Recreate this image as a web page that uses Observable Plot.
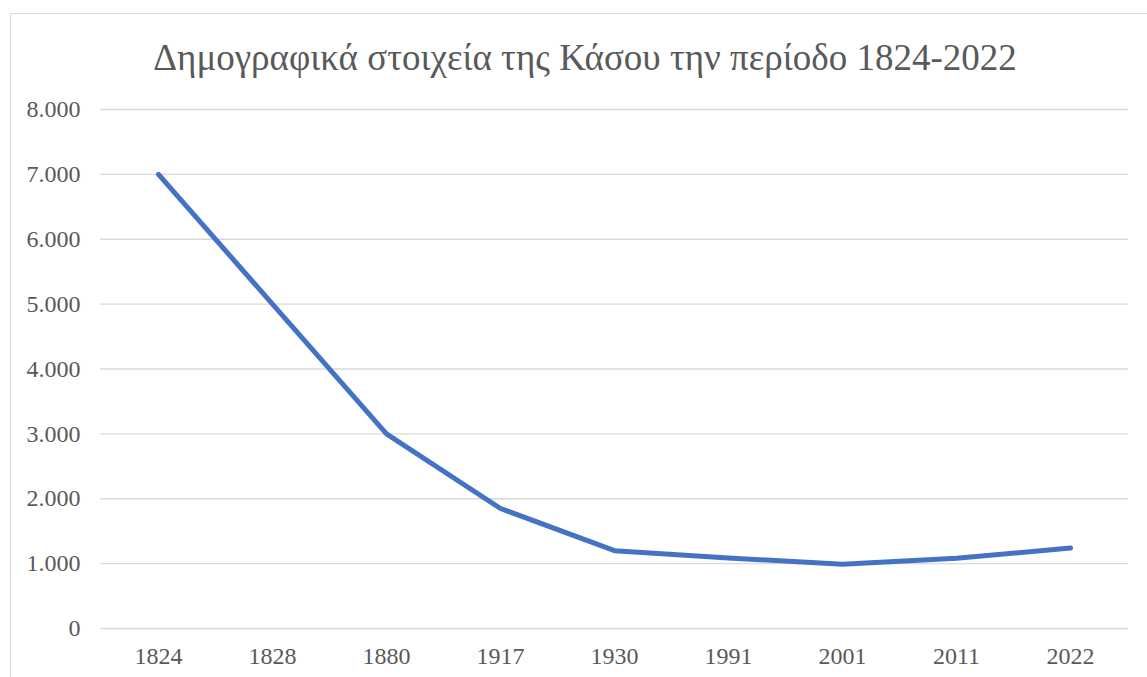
<!DOCTYPE html>
<html>
<head>
<meta charset="utf-8">
<script src="https://cdn.jsdelivr.net/npm/d3@7"></script>
<script src="https://cdn.jsdelivr.net/npm/@observablehq/plot@0.6"></script>
<style>
  html, body { margin: 0; padding: 0; background: #fff; }
  #wrap { position: relative; width: 1147px; height: 677px; overflow: hidden; }
  #frame { position: absolute; left: 10px; top: 13px; width: 1150px; height: 700px; border: 1px solid #d9d9d9; box-sizing: border-box; }
  #title { position: absolute; left: 585px; top: 39px; transform: translateX(-50%); white-space: nowrap;
           font-family: "Liberation Serif", "Times New Roman", serif; font-size: 37px; color: #595959; line-height: 37px; }
  #chart { position: absolute; left: 0; top: 0; }
</style>
</head>
<body>
<div id="wrap">
  <div id="frame"></div>
  <div id="title">Δημογραφικά στοιχεία της Κάσου την περίοδο 1824-2022</div>
  <div id="chart"></div>
</div>
<script>
const years = ["1824", "1828", "1880", "1917", "1930", "1991", "2001", "2011", "2022"];
const population = [7000, 5000, 3000, 1850, 1200, 1088, 990, 1084, 1240];
const yTicks = [0, 1000, 2000, 3000, 4000, 5000, 6000, 7000, 8000];

const data = years.map((y, i) => ({year: y, value: population[i]}));
const fmt = d => d === 0 ? "0" : d3.format(",")(d).replace(/,/g, ".");

const chart = Plot.plot({
  width: 1147,
  height: 677,
  marginLeft: 100,
  marginRight: 19,
  marginTop: 109,
  marginBottom: 49,
  style: {fontFamily: "'Liberation Serif', 'Times New Roman', serif", background: "transparent"},
  x: {type: "point", domain: years, padding: 0.5, label: null},
  y: {domain: [0, 8000], label: null},
  marks: [
    Plot.ruleY(yTicks, {stroke: "#d9d9d9", strokeWidth: 1.3, strokeOpacity: 1}),
    Plot.axisY(yTicks, {tickFormat: fmt, tickSize: 0, tickPadding: 20, fontSize: 24, fill: "#595959", label: null}),
    Plot.axisX(years, {tickSize: 0, tickPadding: 18, fontSize: 24, fill: "#595959", label: null}),
    Plot.line(data, {x: "year", y: "value", stroke: "#4472c4", strokeWidth: 5, strokeLinecap: "round", strokeLinejoin: "round"})
  ]
});
document.getElementById("chart").appendChild(chart);
</script>
</body>
</html>
